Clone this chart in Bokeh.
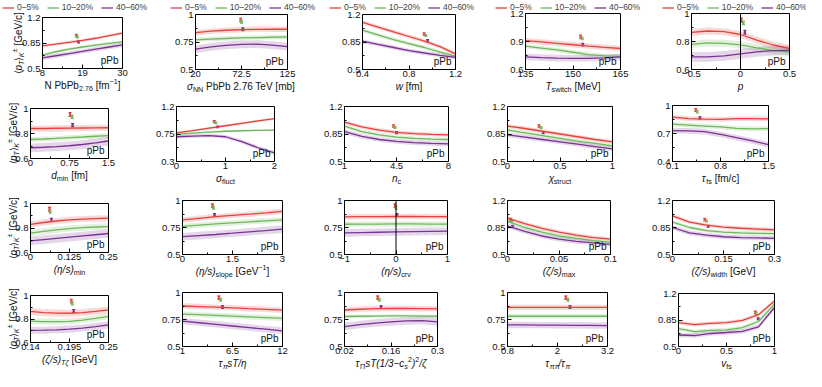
import math
from bokeh.plotting import figure
from bokeh.layouts import row, column
from bokeh.models import (Range1d, FixedTicker, CustomJSTickFormatter, Label, Legend,
                          LegendItem, ColumnDataSource, Whisker, TeeHead)
from bokeh.embed import file_html
from bokeh.resources import INLINE

# ---------------- data ----------------
CENTRALITY = ["0–5%", "10–20%", "40–60%"]
EXP_MEAN = [0.952, 0.933, 0.866]
EXP_ERR = [0.016, 0.012, 0.013]

P01_X = [8, 11.67, 15.33, 19, 22.67, 26.33, 30]
P01_RED = [0.81, 0.835, 0.86, 0.885, 0.915, 0.95, 0.985]
P01_GREEN = [0.685, 0.73, 0.765, 0.795, 0.82, 0.845, 0.865]
P01_PURPLE = [0.645, 0.675, 0.705, 0.735, 0.765, 0.795, 0.825]
P01_BAND = [0.02, 0.02, 0.03]
P01_DATA_X = [17.3, 17.6, 17.9]
P01_XTICKS = [8, 19, 30]
P01_YTICKS = [0.5, 0.85, 1.2]

P02_X = [20, 37.5, 55, 72.5, 90, 107.5, 125]
P02_RED = [0.835, 0.848, 0.857, 0.862, 0.865, 0.866, 0.866]
P02_GREEN = [0.77, 0.777, 0.782, 0.787, 0.79, 0.793, 0.796]
P02_PURPLE = [0.685, 0.705, 0.72, 0.728, 0.73, 0.722, 0.708]
P02_BAND = [0.025, 0.02, 0.035]
P02_DATA_X = [71.5, 72.5, 74]
P02_XTICKS = [20, 72.5, 125]
P02_YTICKS = [0.5, 0.75, 1]

P03_X = [0.4, 0.533, 0.667, 0.8, 0.933, 1.067, 1.2]
P03_RED = [1.1, 1.04, 0.98, 0.92, 0.86, 0.79, 0.7]
P03_GREEN = [1.0, 0.94, 0.88, 0.83, 0.78, 0.72, 0.67]
P03_PURPLE = [0.86, 0.82, 0.78, 0.74, 0.71, 0.68, 0.655]
P03_BAND = [0.025, 0.025, 0.025]
P03_DATA_X = [0.93, 0.945, 0.96]
P03_XTICKS = [0.4, 0.8, 1.2]
P03_YTICKS = [0.5, 0.85, 1.2]

P04_X = [135, 140, 145, 150, 155, 160, 165]
P04_RED = [0.91, 0.895, 0.88, 0.865, 0.85, 0.838, 0.825]
P04_GREEN = [0.85, 0.83, 0.81, 0.785, 0.76, 0.745, 0.74]
P04_PURPLE = [0.735, 0.728, 0.722, 0.72, 0.72, 0.725, 0.735]
P04_BAND = [0.03, 0.025, 0.035]
P04_DATA_X = [152.4, 152.9, 153.1]
P04_XTICKS = [135, 150, 165]
P04_YTICKS = [0.6, 0.9, 1.2]

P05_X = [-0.5, -0.333, -0.167, 0, 0.167, 0.333, 0.5]
P05_RED = [0.865, 0.875, 0.87, 0.85, 0.81, 0.775, 0.75]
P05_GREEN = [0.78, 0.79, 0.787, 0.776, 0.755, 0.735, 0.725]
P05_PURPLE = [0.69, 0.69, 0.698, 0.712, 0.726, 0.735, 0.737]
P05_BAND = [0.025, 0.025, 0.035]
P05_DATA_X = [0.01, 0.03, 0.045]
P05_XTICKS = [-0.5, 0, 0.5]
P05_YTICKS = [0.6, 0.8, 1]

P06_X = [0, 0.25, 0.5, 0.75, 1.0, 1.25, 1.5]
P06_RED = [0.84, 0.84, 0.842, 0.843, 0.844, 0.845, 0.846]
P06_GREEN = [0.752, 0.756, 0.761, 0.767, 0.772, 0.778, 0.783]
P06_PURPLE = [0.686, 0.69, 0.695, 0.702, 0.712, 0.725, 0.74]
P06_BAND = [0.025, 0.02, 0.035]
P06_DATA_X = [0.76, 0.8, 0.81]
P06_XTICKS = [0, 0.75, 1.5]
P06_YTICKS = [0.6, 0.8, 1]

P07_X = [0, 0.333, 0.667, 1.0, 1.333, 1.667, 2.0]
P07_RED = [0.77, 0.805, 0.845, 0.885, 0.925, 0.965, 1.0]
P07_GREEN = [0.745, 0.765, 0.78, 0.795, 0.803, 0.81, 0.815]
P07_PURPLE = [0.705, 0.715, 0.725, 0.705, 0.625, 0.525, 0.44]
P07_BAND = [0.02, 0.015, 0.03]
P07_DATA_X = [0.77, 0.8, 0.84]
P07_XTICKS = [0, 1, 2]
P07_YTICKS = [0.3, 0.75, 1.2]

P08_X = [1, 2.167, 3.333, 4.5, 5.667, 6.833, 8]
P08_RED = [1.0, 0.94, 0.9, 0.87, 0.855, 0.845, 0.84]
P08_GREEN = [0.95, 0.88, 0.84, 0.81, 0.795, 0.785, 0.78]
P08_PURPLE = [0.88, 0.82, 0.78, 0.755, 0.74, 0.73, 0.725]
P08_BAND = [0.025, 0.025, 0.03]
P08_DATA_X = [4.3, 4.4, 4.5]
P08_XTICKS = [1, 4.5, 8]
P08_YTICKS = [0.5, 0.85, 1.2]

P09_X = [0, 0.167, 0.333, 0.5, 0.667, 0.833, 1.0]
P09_RED = [0.95, 0.92, 0.885, 0.85, 0.815, 0.78, 0.75]
P09_GREEN = [0.9, 0.865, 0.83, 0.795, 0.76, 0.73, 0.7]
P09_PURPLE = [0.84, 0.81, 0.78, 0.75, 0.72, 0.69, 0.66]
P09_BAND = [0.025, 0.025, 0.03]
P09_DATA_X = [0.3, 0.32, 0.34]
P09_XTICKS = [0, 0.5, 1]
P09_YTICKS = [0.5, 0.85, 1.2]

P10_X = [0.1, 0.333, 0.567, 0.8, 1.033, 1.267, 1.5]
P10_RED = [0.875, 0.86, 0.855, 0.852, 0.86, 0.86, 0.856]
P10_GREEN = [0.8, 0.79, 0.78, 0.77, 0.755, 0.75, 0.752]
P10_PURPLE = [0.73, 0.728, 0.72, 0.69, 0.655, 0.62, 0.58]
P10_BAND = [0.025, 0.025, 0.03]
P10_DATA_X = [0.44, 0.46, 0.5]
P10_XTICKS = [0.1, 0.8, 1.5]
P10_YTICKS = [0.4, 0.7, 1]

P11_X = [0, 0.0417, 0.0833, 0.125, 0.1667, 0.2083, 0.25]
P11_RED = [0.83, 0.845, 0.857, 0.866, 0.873, 0.877, 0.88]
P11_GREEN = [0.758, 0.772, 0.785, 0.795, 0.803, 0.808, 0.812]
P11_PURPLE = [0.695, 0.705, 0.715, 0.725, 0.735, 0.745, 0.755]
P11_BAND = [0.025, 0.025, 0.035]
P11_DATA_X = [0.061, 0.063, 0.067]
P11_XTICKS = [0, 0.125, 0.25]
P11_YTICKS = [0.6, 0.8, 1]

P12_X = [0, 0.5, 1, 1.5, 2, 2.5, 3]
P12_RED = [0.82, 0.835, 0.85, 0.862, 0.873, 0.885, 0.9]
P12_GREEN = [0.76, 0.772, 0.783, 0.793, 0.803, 0.812, 0.82]
P12_PURPLE = [0.665, 0.675, 0.685, 0.697, 0.71, 0.722, 0.735]
P12_BAND = [0.025, 0.025, 0.035]
P12_DATA_X = [0.9, 0.93, 0.96]
P12_XTICKS = [0, 1.5, 3]
P12_YTICKS = [0.5, 0.75, 1]

P13_X = [-1, -0.667, -0.333, 0, 0.333, 0.667, 1]
P13_RED = [0.848, 0.85, 0.851, 0.852, 0.852, 0.851, 0.85]
P13_GREEN = [0.78, 0.781, 0.782, 0.783, 0.783, 0.782, 0.781]
P13_PURPLE = [0.7, 0.703, 0.706, 0.709, 0.712, 0.714, 0.716]
P13_BAND = [0.025, 0.025, 0.035]
P13_DATA_X = [-0.02, 0.0, 0.02]
P13_XTICKS = [-1, 0, 1]
P13_YTICKS = [0.5, 0.75, 1]

P14_X = [0, 0.0167, 0.0333, 0.05, 0.0667, 0.0833, 0.1]
P14_RED = [0.97, 0.9, 0.84, 0.79, 0.75, 0.72, 0.7]
P14_GREEN = [0.93, 0.85, 0.79, 0.74, 0.71, 0.68, 0.66]
P14_PURPLE = [0.87, 0.8, 0.74, 0.7, 0.67, 0.65, 0.63]
P14_BAND = [0.025, 0.025, 0.03]
P14_DATA_X = [0.003, 0.004, 0.005]
P14_XTICKS = [0, 0.05, 0.1]
P14_YTICKS = [0.5, 0.85, 1.2]

P15_X = [0, 0.05, 0.1, 0.15, 0.2, 0.25, 0.3]
P15_RED = [1.0, 0.92, 0.88, 0.855, 0.84, 0.83, 0.82]
P15_GREEN = [0.92, 0.85, 0.81, 0.79, 0.78, 0.775, 0.77]
P15_PURPLE = [0.85, 0.78, 0.75, 0.73, 0.72, 0.715, 0.71]
P15_BAND = [0.025, 0.025, 0.03]
P15_DATA_X = [0.095, 0.1, 0.105]
P15_XTICKS = [0, 0.15, 0.3]
P15_YTICKS = [0.5, 0.85, 1.2]

P16_X = [0.14, 0.1583, 0.1767, 0.195, 0.2133, 0.2317, 0.25]
P16_RED = [0.865, 0.855, 0.85, 0.849, 0.855, 0.865, 0.877]
P16_GREEN = [0.782, 0.778, 0.778, 0.78, 0.79, 0.805, 0.822]
P16_PURPLE = [0.703, 0.705, 0.708, 0.714, 0.723, 0.735, 0.75]
P16_BAND = [0.03, 0.025, 0.03]
P16_DATA_X = [0.1976, 0.199, 0.201]
P16_XTICKS = [0.14, 0.195, 0.25]
P16_YTICKS = [0.6, 0.8, 1]

P17_X = [1, 2.833, 4.667, 6.5, 8.333, 10.167, 12]
P17_RED = [0.875, 0.87, 0.865, 0.858, 0.85, 0.843, 0.836]
P17_GREEN = [0.8, 0.795, 0.788, 0.781, 0.774, 0.767, 0.76]
P17_PURPLE = [0.735, 0.72, 0.705, 0.69, 0.675, 0.66, 0.645]
P17_BAND = [0.025, 0.025, 0.03]
P17_DATA_X = [5.0, 5.2, 5.4]
P17_XTICKS = [1, 6.5, 12]
P17_YTICKS = [0.5, 0.75, 1]

P18_X = [0.02, 0.0667, 0.1133, 0.16, 0.2067, 0.2533, 0.3]
P18_RED = [0.838, 0.845, 0.85, 0.852, 0.852, 0.85, 0.848]
P18_GREEN = [0.778, 0.78, 0.782, 0.783, 0.783, 0.782, 0.78]
P18_PURPLE = [0.685, 0.703, 0.717, 0.728, 0.737, 0.74, 0.728]
P18_BAND = [0.025, 0.015, 0.035]
P18_DATA_X = [0.12, 0.125, 0.13]
P18_XTICKS = [0.02, 0.16, 0.3]
P18_YTICKS = [0.5, 0.75, 1]

P19_X = [0.8, 1.2, 1.6, 2.0, 2.4, 2.8, 3.2]
P19_RED = [0.862, 0.862, 0.862, 0.862, 0.862, 0.862, 0.862]
P19_GREEN = [0.78, 0.78, 0.78, 0.78, 0.78, 0.78, 0.78]
P19_PURPLE = [0.7, 0.7, 0.698, 0.697, 0.696, 0.695, 0.694]
P19_BAND = [0.025, 0.02, 0.03]
P19_DATA_X = [2.2, 2.25, 2.3]
P19_XTICKS = [0.8, 2, 3.2]
P19_YTICKS = [0.5, 0.75, 1]

P20_X = [0, 0.167, 0.333, 0.5, 0.667, 0.833, 1.0]
P20_RED = [0.815, 0.79, 0.805, 0.815, 0.845, 0.92, 1.1]
P20_GREEN = [0.735, 0.695, 0.712, 0.72, 0.75, 0.83, 1.06]
P20_PURPLE = [0.652, 0.645, 0.672, 0.685, 0.7, 0.76, 1.015]
P20_BAND = [0.025, 0.025, 0.03]
P20_DATA_X = [0.8, 0.81, 0.83]
P20_XTICKS = [0, 0.5, 1]
P20_YTICKS = [0.5, 0.85, 1.2]

# axis titles: (text, kind) kind = position n/b/p (normal/sub/sup) + r/i (roman/italic)
XLABELS = [
    [("N PbPb", "nr"), ("2.76", "br"), (" [fm", "nr"), ("−1", "pr"), ("]", "nr")],
    [("σ", "ni"), ("NN", "br"), (" PbPb 2.76 TeV [mb]", "nr")],
    [("w", "ni"), (" [fm]", "nr")],
    [("T", "ni"), ("switch", "br"), (" [MeV]", "nr")],
    [("p", "ni")],
    [("d", "ni"), ("min", "br"), (" [fm]", "nr")],
    [("σ", "ni"), ("fluct", "br")],
    [("n", "ni"), ("c", "br")],
    [("χ", "ni"), ("struct", "br")],
    [("τ", "ni"), ("fs", "br"), (" [fm/c]", "nr")],
    [("(η/s)", "ni"), ("min", "br")],
    [("(η/s)", "ni"), ("slope", "br"), (" [GeV", "nr"), ("−1", "pr"), ("]", "nr")],
    [("(η/s)", "ni"), ("crv", "br")],
    [("(ζ/s)", "ni"), ("max", "br")],
    [("(ζ/s)", "ni"), ("width", "br"), (" [GeV]", "nr")],
    [("(ζ/s)", "ni"), ("Tζ", "bi"), (" [GeV]", "nr")],
    [("τ", "ni"), ("π", "bi"), ("sT/η", "ni")],
    [("τ", "ni"), ("Π", "br"), ("sT(1/3−c", "ni"), ("s", "bi"), ("2", "pr"), (")", "ni"), ("2", "pr"), ("/ζ", "ni")],
    [("τ", "ni"), ("ππ", "bi"), ("/τ", "ni"), ("π", "bi")],
    [("v", "ni"), ("fs", "br")],
]
YLABEL = [("⟨", "nr"), ("p", "ni"), ("T", "bi"), ("⟩", "nr"), ("K", "bi"), ("±", "pr"), (" [GeV/c]", "nr")]
PANEL_TAG = "pPb"

ALL_X = [P01_X, P02_X, P03_X, P04_X, P05_X, P06_X, P07_X, P08_X, P09_X, P10_X,
         P11_X, P12_X, P13_X, P14_X, P15_X, P16_X, P17_X, P18_X, P19_X, P20_X]
ALL_CURVES = [
    [P01_RED, P01_GREEN, P01_PURPLE], [P02_RED, P02_GREEN, P02_PURPLE],
    [P03_RED, P03_GREEN, P03_PURPLE], [P04_RED, P04_GREEN, P04_PURPLE],
    [P05_RED, P05_GREEN, P05_PURPLE], [P06_RED, P06_GREEN, P06_PURPLE],
    [P07_RED, P07_GREEN, P07_PURPLE], [P08_RED, P08_GREEN, P08_PURPLE],
    [P09_RED, P09_GREEN, P09_PURPLE], [P10_RED, P10_GREEN, P10_PURPLE],
    [P11_RED, P11_GREEN, P11_PURPLE], [P12_RED, P12_GREEN, P12_PURPLE],
    [P13_RED, P13_GREEN, P13_PURPLE], [P14_RED, P14_GREEN, P14_PURPLE],
    [P15_RED, P15_GREEN, P15_PURPLE], [P16_RED, P16_GREEN, P16_PURPLE],
    [P17_RED, P17_GREEN, P17_PURPLE], [P18_RED, P18_GREEN, P18_PURPLE],
    [P19_RED, P19_GREEN, P19_PURPLE], [P20_RED, P20_GREEN, P20_PURPLE],
]
ALL_BAND = [P01_BAND, P02_BAND, P03_BAND, P04_BAND, P05_BAND, P06_BAND, P07_BAND, P08_BAND,
            P09_BAND, P10_BAND, P11_BAND, P12_BAND, P13_BAND, P14_BAND, P15_BAND, P16_BAND,
            P17_BAND, P18_BAND, P19_BAND, P20_BAND]
ALL_DATA_X = [P01_DATA_X, P02_DATA_X, P03_DATA_X, P04_DATA_X, P05_DATA_X, P06_DATA_X,
              P07_DATA_X, P08_DATA_X, P09_DATA_X, P10_DATA_X, P11_DATA_X, P12_DATA_X,
              P13_DATA_X, P14_DATA_X, P15_DATA_X, P16_DATA_X, P17_DATA_X, P18_DATA_X,
              P19_DATA_X, P20_DATA_X]
ALL_XTICKS = [P01_XTICKS, P02_XTICKS, P03_XTICKS, P04_XTICKS, P05_XTICKS, P06_XTICKS,
              P07_XTICKS, P08_XTICKS, P09_XTICKS, P10_XTICKS, P11_XTICKS, P12_XTICKS,
              P13_XTICKS, P14_XTICKS, P15_XTICKS, P16_XTICKS, P17_XTICKS, P18_XTICKS,
              P19_XTICKS, P20_XTICKS]
ALL_YTICKS = [P01_YTICKS, P02_YTICKS, P03_YTICKS, P04_YTICKS, P05_YTICKS, P06_YTICKS,
              P07_YTICKS, P08_YTICKS, P09_YTICKS, P10_YTICKS, P11_YTICKS, P12_YTICKS,
              P13_YTICKS, P14_YTICKS, P15_YTICKS, P16_YTICKS, P17_YTICKS, P18_YTICKS,
              P19_YTICKS, P20_YTICKS]
VLINE_AT_ZERO = {4, 12}

# ---------------- layout / style ----------------
COL_CELLS = [(8, 160), (160, 325), (325, 490), (490, 655), (655, 814)]
ROW_CELLS = [(8, 101), (101, 194), (194, 287), (287, 379)]
FRAMES = [  # page px: left, top, right, bottom
    (50, 25, 130, 76), (203, 22, 295, 77), (370, 22, 463, 77), (533, 21, 628, 77), (699, 21, 797, 77),
    (38, 116, 116, 166), (184, 114, 282, 169), (352, 114, 456, 169), (515, 114, 620, 169), (680, 113, 776, 169),
    (38, 211, 116, 260), (190, 208, 290, 262), (352, 208, 455, 262), (515, 208, 618, 262), (680, 208, 782, 262),
    (38, 303, 116, 350), (190, 300, 290, 354), (352, 300, 445, 354), (515, 300, 615, 354), (686, 301, 782, 354),
]
LEGEND_X = [10, 178, 337, 503, 670]
LEGEND_BOTTOM = 20
COLORS = ["#e8413c", "#6fb85c", "#7b3294"]
FONT = "Liberation Sans"
XLABEL_GAP = 17
YLABEL_GAP = [24, 17, 17, 17]
LABEL_SIZE = 10.0

CW = {' ': 0.278, '(': 0.333, ')': 0.333, '[': 0.278, ']': 0.278, '/': 0.278, '.': 0.278,
      '-': 0.333, '−': 0.584, '±': 0.584, '⟨': 0.33, '⟩': 0.33,
      'σ': 0.6, 'η': 0.55, 'ζ': 0.45, 'τ': 0.45, 'χ': 0.5, 'π': 0.58, 'Π': 0.72}
for ch in "0123456789":
    CW[ch] = 0.556
CW.update(dict(zip("ABCDEFGHIJKLMNOPQRSTUVWXYZ",
                   [0.667, 0.667, 0.722, 0.722, 0.667, 0.611, 0.778, 0.722, 0.278, 0.5, 0.667, 0.556,
                    0.833, 0.722, 0.778, 0.667, 0.778, 0.722, 0.667, 0.611, 0.722, 0.667, 0.944,
                    0.667, 0.667, 0.611])))
CW.update(dict(zip("abcdefghijklmnopqrstuvwxyz",
                   [0.556, 0.556, 0.5, 0.556, 0.556, 0.278, 0.556, 0.556, 0.222, 0.222, 0.5, 0.222,
                    0.833, 0.556, 0.556, 0.556, 0.556, 0.333, 0.5, 0.278, 0.556, 0.5, 0.722, 0.5,
                    0.5, 0.5])))

SCALE = {"n": 1.0, "b": 0.72, "p": 0.72}
SHIFT = {"n": 0.0, "b": -2.5, "p": 3.8}


def text_width(s, size):
    return sum(CW.get(ch, 0.556) for ch in s) * size


def draw_segments(p, ax, ay, segs, x_px, y_px, rotate=False):
    widths = [text_width(t, LABEL_SIZE * SCALE[k[0]]) for t, k in segs]
    pos = -sum(widths) / 2.0
    for (t, k), w in zip(segs, widths):
        fs = LABEL_SIZE * SCALE[k[0]]
        sh = SHIFT[k[0]]
        style = "italic" if k[1] == "i" else "normal"
        lead = text_width(t[:len(t) - len(t.lstrip(" "))], fs)
        shown = t.strip(" ")
        if rotate:
            xo, yo, ang = x_px - sh, y_px + pos + lead, math.pi / 2
        else:
            xo, yo, ang = x_px + pos + lead, y_px + sh, 0.0
        p.add_layout(Label(x=ax, y=ay, x_offset=xo, y_offset=yo,
                           angle=ang, text=shown, text_font=FONT, text_font_size=f"{fs:.1f}px",
                           text_font_style=style, text_color="#111111",
                           text_align="left", text_baseline="alphabetic"))
        pos += w


def mids(t):
    return [(a + b) / 2.0 for a, b in zip(t[:-1], t[1:])]


FMT = "return tick < 0 ? '\\u2212' + (-tick).toString() : tick.toString();"


def build(i):
    r, c = divmod(i, 5)
    fl, ft, fr, fb = FRAMES[i]
    cx0, cx1 = COL_CELLS[c]
    cy0, cy1 = ROW_CELLS[r]
    W, H = cx1 - cx0, cy1 - cy0
    xt, yt = ALL_XTICKS[i], ALL_YTICKS[i]
    x0, x1, y0, y1 = xt[0], xt[-1], yt[0], yt[-1]
    kx = (x1 - x0) / (fr - fl)
    ky = (y1 - y0) / (fb - ft)
    xs = x0 - (fl - cx0) * kx
    ys = y0 - (cy1 - fb) * ky
    p = figure(width=W, height=H, x_range=Range1d(xs, xs + W * kx), y_range=Range1d(ys, ys + H * ky),
               min_border=0, min_border_left=0, min_border_right=0, min_border_top=0,
               min_border_bottom=0, output_backend="svg", toolbar_location=None, tools="")
    p.grid.visible = False
    p.outline_line_color = None
    p.background_fill_color = "white"
    p.border_fill_color = "white"
    p.xaxis.fixed_location = y0
    p.yaxis.fixed_location = x0
    p.xaxis.ticker = FixedTicker(ticks=xt, minor_ticks=mids(xt))
    p.yaxis.ticker = FixedTicker(ticks=yt, minor_ticks=mids(yt))
    for ax in (p.xaxis, p.yaxis):
        ax.formatter = CustomJSTickFormatter(code=FMT)
        ax.major_tick_in = 4
        ax.major_tick_out = 0
        ax.minor_tick_in = 2
        ax.minor_tick_out = 0
        ax.axis_line_color = None
        ax.major_tick_line_color = "black"
        ax.minor_tick_line_color = "black"
        ax.major_label_text_font = FONT
        ax.major_label_text_font_size = "9.5px"
        ax.major_label_text_color = "#111111"
    p.xaxis.major_label_standoff = 1
    p.yaxis.major_label_standoff = 2

    xs_data = ALL_X[i]
    lines = []
    for k in range(3):
        vals = ALL_CURVES[i][k]
        b = ALL_BAND[i][k]
        p.varea(x=xs_data, y1=[v - b for v in vals], y2=[v + b for v in vals],
                fill_color=COLORS[k], fill_alpha=0.2)
    for k in range(3):
        lines.append(p.line(xs_data, ALL_CURVES[i][k], line_color=COLORS[k], line_width=1.3))
    if i in VLINE_AT_ZERO:
        p.segment(x0=[0], y0=[y0], x1=[0], y1=[y1], line_color="black", line_width=1)
    for k in range(3):
        dx = ALL_DATA_X[i][k]
        m, e = EXP_MEAN[k], EXP_ERR[k]
        src = ColumnDataSource(dict(x=[dx], lo=[m - e], hi=[m + e]))
        p.add_layout(Whisker(source=src, base="x", upper="hi", lower="lo", dimension="height",
                             line_color=COLORS[k], line_width=2.2,
                             upper_head=TeeHead(size=3, line_color=COLORS[k], line_width=1.2),
                             lower_head=TeeHead(size=3, line_color=COLORS[k], line_width=1.2)))
    # panel frame box
    p.quad(left=[x0], right=[x1], bottom=[y0], top=[y1], fill_color=None,
           line_color="black", line_width=1)

    p.add_layout(Label(x=x1, y=y0, x_offset=-4, y_offset=3,
                       text=PANEL_TAG, text_font=FONT, text_font_size="10px",
                       text_color="#111111", text_align="right", text_baseline="bottom"))

    fw, fh = fr - fl, fb - ft
    draw_segments(p, x0, y0, XLABELS[i], fw / 2.0, -XLABEL_GAP)
    if c == 0:
        draw_segments(p, x0, y0, YLABEL, -YLABEL_GAP[r], fh / 2.0, rotate=True)
    if r == 0:
        leg = Legend(items=[LegendItem(label=CENTRALITY[k], renderers=[lines[k]]) for k in range(3)],
                     orientation="horizontal", location=(LEGEND_X[c] - cx0, cy1 - LEGEND_BOTTOM),
                     glyph_width=12, glyph_height=9, label_height=9, label_standoff=3,
                     spacing=8, padding=0, margin=0, border_line_alpha=0,
                     background_fill_alpha=0, label_text_font=FONT,
                     label_text_font_size="8.5px")
        p.add_layout(leg)
    return p


figs = [build(i) for i in range(20)]
layout = column([row(figs[r * 5:(r + 1) * 5]) for r in range(4)])

open("out.html", "w").write(file_html(layout, INLINE))
